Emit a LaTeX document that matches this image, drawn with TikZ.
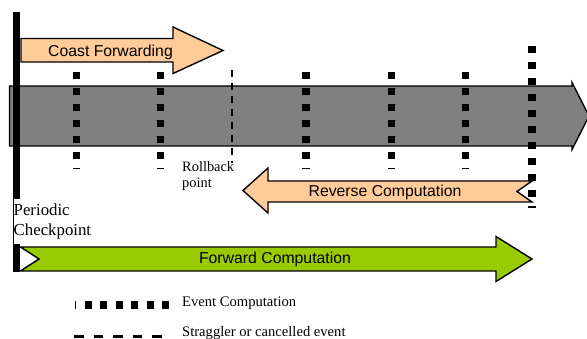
\documentclass[tikz,border=0pt]{standalone}
\usepackage{fontspec}
\setmainfont{Liberation Serif}
\newfontfamily\arialf{Liberation Sans}
\definecolor{peach}{HTML}{FFCC99}
\definecolor{limeg}{HTML}{99CC00}
\definecolor{midgrey}{HTML}{808080}
\begin{document}
\begin{tikzpicture}[x=1pt,y=-1pt,
  arrowshape/.style={draw=black, line width=1.4pt, line join=miter},
  eventline/.style={line width=7.2pt, dash pattern=on 7.5pt off 8.5pt},
  straggler/.style={line width=1.8pt, dash pattern=on 7pt off 6pt},
  sanslabel/.style={font=\arialf\fontsize{15.8}{19}\selectfont, inner sep=0pt, anchor=base},
  seriflabel/.style={font=\fontsize{14.6}{17}\selectfont, inner sep=0pt, anchor=base west},
  bigserif/.style={font=\fontsize{16.8}{20}\selectfont, inner sep=0pt, anchor=base west}]
\useasboundingbox (0,0) rectangle (587,339);
% grey timeline arrow
\draw[arrowshape, fill=midgrey] (9.5,86) -- (572,86) -- (572,82.5) -- (589,116) -- (572,149.5) -- (572,146) -- (9.5,146) -- cycle;
% coast forwarding arrow
\draw[arrowshape, fill=peach] (21,38.5) -- (173,38.5) -- (173,27) -- (223,50.5) -- (173,73.5) -- (173,62) -- (21,62) -- cycle;
% reverse computation arrow
\draw[arrowshape, fill=peach] (532,181) -- (268,181) -- (268,168) -- (243,190.5) -- (268,213) -- (268,202) -- (532,202) -- (517,191.5) -- cycle;
% forward computation arrow
\draw[arrowshape, fill=limeg] (20.5,247) -- (496,247) -- (496,236.5) -- (532,259) -- (496,281.5) -- (496,271) -- (20.5,271) -- (39,259) -- cycle;
% event computation lines
\foreach \ex in {76.5,160.5,306,391.7,465.5}
  \draw[eventline] (\ex,72) -- (\ex,169.5);
\draw[eventline] (532,46) -- (532,208);
% straggler line
\draw[straggler] (232,70) -- (232,163);
% periodic checkpoint bar
\fill[black] (13,12) rectangle (20,272.5);
\fill[white] (14,199) rectangle (96,244);
% labels
\node[sanslabel] (coast) at (110.5,57) {Coast Forwarding};
\node[sanslabel] (reverse) at (385,197) {Reverse Computation};
\node[sanslabel] (forward) at (275,264) {Forward Computation};
\node[bigserif] (periodic) at (13.5,216) {Periodic};
\node[bigserif] (checkpoint) at (13.5,236) {Checkpoint};
\node[seriflabel, font=\fontsize{14.4}{17}\selectfont] (rollback) at (182,172) {Rollback};
\node[seriflabel, font=\fontsize{14.4}{17}\selectfont] (point) at (182,188) {point};
% legend
\draw[line width=7.2pt, dash pattern=on 7pt off 8.5pt, dash phase=5.5pt] (74.5,305) -- (170,305);
\draw[line width=2.4pt, dash pattern=on 9.5pt off 10pt] (74,336.7) -- (162,336.7);
\node[seriflabel] (evlabel) at (182,307) {Event Computation};
\node[seriflabel] (stlabel) at (182,337) {Straggler or cancelled event};
\end{tikzpicture}
\end{document}
